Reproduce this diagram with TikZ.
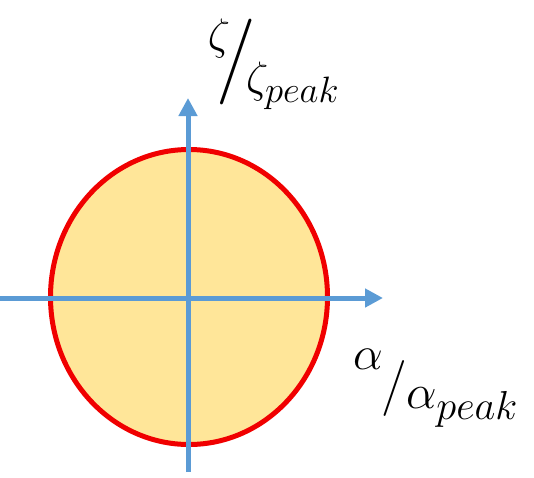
\documentclass[tikz,border=0pt]{standalone}
\usepackage{graphicx}
\usetikzlibrary{arrows.meta,shapes.geometric}
\definecolor{axisblue}{HTML}{5B9BD5}
\definecolor{fillyellow}{HTML}{FFE699}
\definecolor{rimred}{HTML}{F00000}
\newcommand{\bigmath}[2]{\scalebox{#1}{\Huge$#2$}}
\begin{document}
\begin{tikzpicture}[x=1pt,y=-1pt,
  axisline/.style={draw=axisblue,line width=5pt,-{Triangle[length=18pt,width=18pt]}},
  region/.style={ellipse,draw=rimred,fill=fillyellow,line width=5pt,inner sep=0pt,
    minimum width=277pt,minimum height=295pt},
  big/.style={inner sep=0pt},
  slash/.style={inner sep=0pt,font=\fontsize{86}{86}\selectfont},
  smallslash/.style={inner sep=0pt,font=\fontsize{56}{56}\selectfont}]
\useasboundingbox (0,0) rectangle (534,477);
\node[region] (reg) at (189,297) {};
\coordinate (hl) at (0,298);
\coordinate (hr) at (383,298);
\coordinate (vb) at (188,472);
\coordinate (vt) at (188,98);
\draw[axisline] (hl) -- (hr);
\draw[axisline] (vb) -- (vt);
% zeta label
\node[big] (zn) at (219,38) {\bigmath{1.77}{\zeta}};
\node[slash] (zs) at (236,62) {/};
\node[big,anchor=base west] (zd) at (246,92) {\bigmath{1.77}{\zeta_{peak}}};
% alpha label
\node[big] (an) at (368,359) {\bigmath{1.9}{\alpha}};
\node[smallslash] (as) at (394,388) {/};
\node[big,anchor=base west] (ad) at (406,408) {\bigmath{1.95}{\alpha_{peak}}};
\end{tikzpicture}
\end{document}
